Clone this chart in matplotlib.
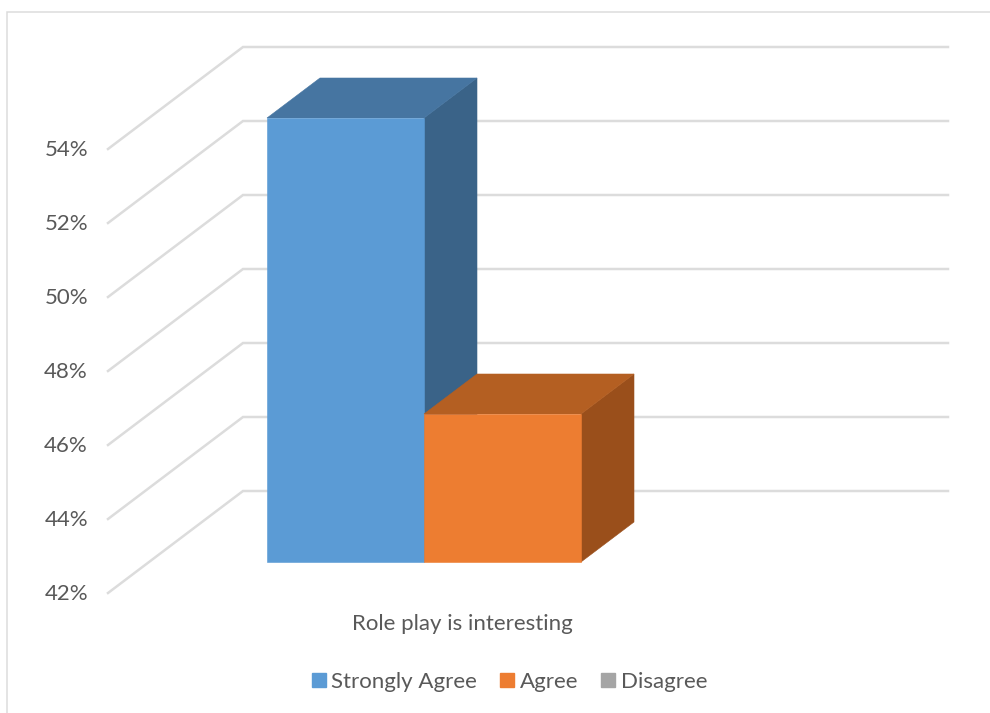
import matplotlib

matplotlib.use("Agg")
import matplotlib.pyplot as plt
from matplotlib.patches import Patch, Polygon

plt.rcParams["font.family"] = ["Lato", "DejaVu Sans"]

# chart values
category = "Role play is interesting"
series_names = ["Strongly Agree", "Agree", "Disagree"]
series_values = [54, 46, 42]
axis_ticks = [42, 44, 46, 48, 50, 52, 54]

# face colours per series: front, top, side
front_colors = ["#5B9BD5", "#ED7D31", "#A5A5A5"]
top_colors = ["#4675A1", "#B45F22", "#7D7D7D"]
side_colors = ["#3A6388", "#9A4F1B", "#686868"]

GRID = "#DCDCDC"
TEXT = "#595959"

# pixel layout of the 3d box
FLOOR_FRONT_Y = 593.0
PX_PER_PCT = 37.0
WALL_LEFT = 108.0
WALL_BACK_X = 243.0
WALL_RIGHT = 948.0
WALL_DY = 102.0
BAR_LEFT = 267.0
BAR_WIDTH = 157.0
BAR_BOTTOM = 562.0
BAR_DX = 53.0
BAR_DY = 40.0


def value_y(value, base):
    return base - (value - axis_ticks[0]) * PX_PER_PCT


def draw_bar(ax, i, value):
    if value <= axis_ticks[0]:
        return
    x0 = BAR_LEFT + i * BAR_WIDTH
    x1 = x0 + BAR_WIDTH
    y0 = BAR_BOTTOM
    y1 = value_y(value, BAR_BOTTOM)
    side = [(x1, y0), (x1, y1), (x1 + BAR_DX, y1 - BAR_DY), (x1 + BAR_DX, y0 - BAR_DY)]
    top = [(x0, y1), (x1, y1), (x1 + BAR_DX, y1 - BAR_DY), (x0 + BAR_DX, y1 - BAR_DY)]
    front = [(x0, y0), (x1, y0), (x1, y1), (x0, y1)]
    for pts, col in [(side, side_colors[i]), (top, top_colors[i]), (front, front_colors[i])]:
        ax.add_patch(Polygon(pts, closed=True, fc=col, ec=col, lw=0.4, zorder=3))


fig = plt.figure(figsize=(9.9, 7.13), dpi=100)
ax = fig.add_axes([0, 0, 1, 1])
ax.set_xlim(0, 990)
ax.set_ylim(713, 0)
ax.axis("off")

# outer chart frame, only top and left are visible
ax.plot([990, 7, 7], [11.5, 11.5, 713], color=GRID, lw=1.1, solid_joinstyle="miter")

# floor and wall gridlines for each tick
for tick in axis_ticks:
    y = value_y(tick, FLOOR_FRONT_Y)
    ax.plot(
        [WALL_LEFT, WALL_BACK_X, WALL_RIGHT],
        [y, y - WALL_DY, y - WALL_DY],
        color=GRID, lw=1.8, solid_joinstyle="miter", zorder=1,
    )
    ax.text(88, y + 0.5, f"{tick}%", ha="right", va="center", fontsize=16, color=TEXT)

for i, value in enumerate(series_values):
    draw_bar(ax, i, value)

ax.text(462, 623.5, category, ha="center", va="center", fontsize=16, color=TEXT)

handles = [
    Patch(facecolor=c, edgecolor=c, label=n) for c, n in zip(front_colors, series_names)
]
fig.legend(
    handles=handles,
    loc="center",
    bbox_to_anchor=(509.5 / 990, 1 - 682 / 713),
    ncol=3,
    frameon=False,
    fontsize=16,
    labelcolor=TEXT,
    handlelength=0.62,
    handleheight=0.62,
    handletextpad=0.25,
    columnspacing=1.05,
)

fig.savefig("out.png", dpi=100, facecolor="white")
